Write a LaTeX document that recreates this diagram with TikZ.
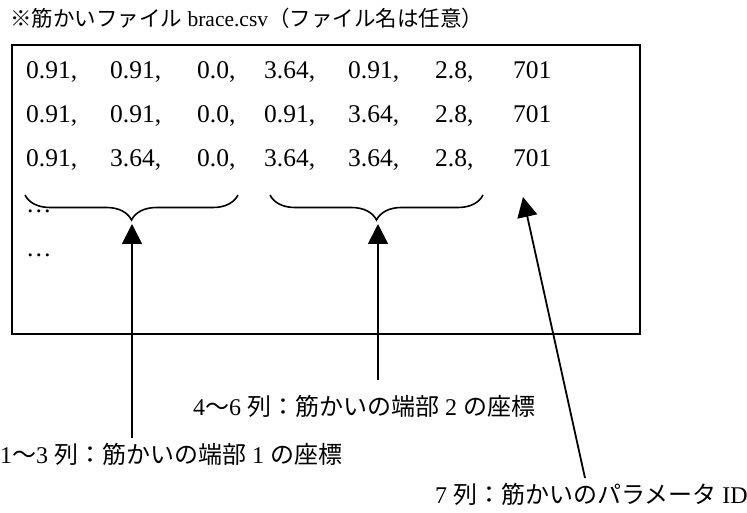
\documentclass[tikz,border=0pt]{standalone}
\usepackage{fontspec}
\setmainfont{Liberation Serif}
\newfontfamily\jp{Noto Sans CJK JP}
\usetikzlibrary{arrows.meta,decorations.pathreplacing}
\begin{document}
\begin{tikzpicture}[x=1pt,y=-1pt,
  cell/.style={inner sep=0pt, anchor=base west, font=\fontsize{25.5}{30}\selectfont},
  lbl/.style={inner sep=0pt, anchor=base west, font=\fontsize{24}{28}\selectfont},
  ttl/.style={inner sep=0pt, anchor=base west, font=\fontsize{21.5}{26}\selectfont},
  arr/.style={line width=1.8pt, -{Triangle[length=20pt,width=20pt]}},
  brc/.style={line width=1.6pt, decorate, decoration={brace, mirror, amplitude=25pt}}]
\useasboundingbox (0,0) rectangle (747,513);
% title
\node[ttl] (title) at (10,27) {{\jp ※筋かいファイル} brace.csv{\jp （ファイル名は任意）}};
% frame
\node[draw, line width=2.2pt, minimum width=628pt, minimum height=289pt,
      anchor=north west, inner sep=0pt] (box) at (11,44) {};
% data rows
\foreach \r/\y/\a/\b/\d/\e in {1/79/0.91/0.91/3.64/0.91, 2/123/0.91/0.91/0.91/3.64, 3/167/0.91/3.64/3.64/3.64}{
  \node[cell] (r\r c1) at (26,\y)  {\a,};
  \node[cell] (r\r c2) at (110,\y) {\b,};
  \node[cell] (r\r c3) at (197,\y) {0.0,};
  \node[cell] (r\r c4) at (264,\y) {\d,};
  \node[cell] (r\r c5) at (348,\y) {\e,};
  \node[cell] (r\r c6) at (435,\y) {2.8,};
  \node[cell] (r\r c7) at (513,\y) {701};
}
\node[cell] (dots1) at (26,213) {…};
\node[cell] (dots2) at (26,257) {…};
% braces
\coordinate (b1l) at (25,195);
\coordinate (b1r) at (238,195);
\coordinate (b2l) at (270,195);
\coordinate (b2r) at (483,195);
\draw[brc] (b1l) -- (b1r);
\draw[brc] (b2l) -- (b2r);
% labels
\node[lbl] (lbl2) at (193,415) {4{\jp 〜}6 {\jp 列：筋かいの端部} 2 {\jp の座標}};
\node[lbl] (lbl1) at (0,463) {1{\jp 〜}3 {\jp 列：筋かいの端部} 1 {\jp の座標}};
\node[lbl] (lbl3) at (435,503) {7 {\jp 列：筋かいのパラメータ} ID};
% arrows
\coordinate (t1) at (132,224);
\coordinate (t2) at (378,224);
\coordinate (t3) at (523,197);
\coordinate (s1) at (132,438);
\coordinate (s2) at (378,380);
\coordinate (s3) at (585,478);
\draw[arr] (s1) -- (t1);
\draw[arr] (s2) -- (t2);
\draw[arr] (s3) -- (t3);
\end{tikzpicture}
\end{document}
